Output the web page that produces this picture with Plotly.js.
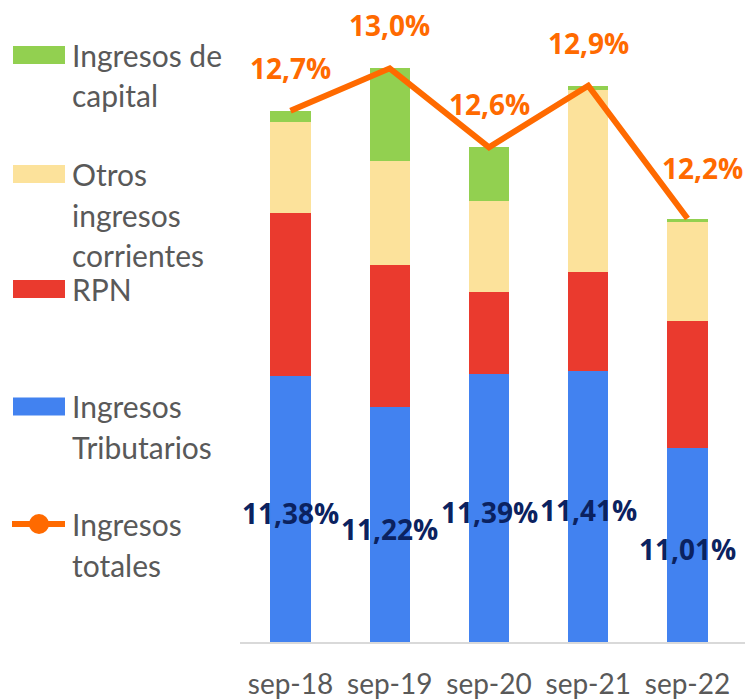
<!DOCTYPE html>
<html><head><meta charset="utf-8">
<script src="https://cdn.plot.ly/plotly-3.0.1.min.js"></script>
<style>html,body{margin:0;padding:0;background:#fff}#chart{width:753px;height:699px}</style>
</head><body><div id="chart"></div>
<script>
const categories = ['sep-18', 'sep-19', 'sep-20', 'sep-21', 'sep-22'];
const tributarios = [11.38, 11.22, 11.39, 11.41, 11.01];
const rpn = [0.85, 0.74, 0.43, 0.51, 0.66];
const otros = [0.47, 0.54, 0.47, 0.95, 0.51];
const capital = [0.06, 0.48, 0.28, 0.02, 0.02];
const totales = [12.76, 12.98, 12.57, 12.89, 12.20];
const tributariosLabels = ['11,38%', '11,22%', '11,39%', '11,41%', '11,01%'];
const totalesLabels = ['12,7%', '13,0%', '12,6%', '12,9%', '12,2%'];
const legendLines = [['Ingresos de', 'capital'], ['Otros', 'ingresos', 'corrientes'], ['RPN'], ['Ingresos', 'Tributarios'], ['Ingresos', 'totales']];

const C = {blue: '#4282F0', red: '#EA3A2E', yellow: '#FCE29B', green: '#92D050', orange: '#FF6A00', navy: '#0B2260', gray: '#595959'};
const FONT = 'Lato, "Open Sans", sans-serif';
const BOLD = '"Open Sans", "Noto Sans", sans-serif';
const M = {l: 240, r: 8, t: 20, b: 57};
const W = 753, H = 699, PW = W - M.l - M.r, PH = H - M.t - M.b;
const axisMin = 10;
const px = x => (x - M.l) / PW;
const py = y => (H - M.b - y) / PH;

const bar = (y, name, color) => ({type: 'bar', x: categories, y: y, name: name, marker: {color: color}, hoverinfo: 'name+y'});
const data = [
  bar(tributarios, 'Ingresos Tributarios', C.blue),
  bar(rpn, 'RPN', C.red),
  bar(otros, 'Otros ingresos corrientes', C.yellow),
  bar(capital, 'Ingresos de capital', C.green),
  {type: 'scatter', mode: 'lines', x: categories, y: totales, name: 'Ingresos totales', line: {color: C.orange, width: 6}}
];

const annotations = [];
categories.forEach((c, i) => {
  annotations.push({x: c, y: (axisMin + tributarios[i]) / 2, text: tributariosLabels[i], showarrow: false,
    yshift: -4, font: {family: BOLD, size: 28, color: C.navy, weight: 700}});
  const last = i === categories.length - 1;
  annotations.push({x: c, y: totales[i], text: totalesLabels[i], showarrow: false,
    xshift: last ? 15 : 0, yshift: last ? 51 : 43, font: {family: BOLD, size: 28, color: C.orange, weight: 700}});
});

const legendTop = [55, 174, 289, 406.5, 524];
const lineGap = 40.5;
const shapes = [];
const swatchColors = [C.green, C.yellow, C.red, C.blue];
legendLines.forEach((lines, k) => {
  lines.forEach((t, j) => {
    annotations.push({xref: 'paper', yref: 'paper', x: px(70), y: py(legendTop[k] + j * lineGap), xanchor: 'left', yanchor: 'middle',
      text: t, showarrow: false, font: {family: FONT, size: 30, color: C.gray}});
  });
  const yc = legendTop[k];
  if (k < 4) {
    shapes.push({type: 'rect', xref: 'paper', yref: 'paper', x0: px(13), x1: px(65), y0: py(yc - 9), y1: py(yc + 9), fillcolor: swatchColors[k], line: {width: 0}});
  } else {
    shapes.push({type: 'line', xref: 'paper', yref: 'paper', x0: px(12), x1: px(65), y0: py(yc), y1: py(yc), line: {color: C.orange, width: 6}});
    shapes.push({type: 'circle', xref: 'paper', yref: 'paper', x0: px(29), x1: px(49), y0: py(yc - 10), y1: py(yc + 10), fillcolor: C.orange, line: {width: 0}});
  }
});

const layout = {
  width: W, height: H, margin: M, barmode: 'stack', bargap: 0.594, showlegend: false,
  paper_bgcolor: '#fff', plot_bgcolor: '#fff',
  xaxis: {type: 'category', showline: true, linecolor: '#D9D9D9', linewidth: 2, showgrid: false, ticks: '',
    ticklabelstandoff: 16, tickfont: {family: FONT, size: 28, color: C.gray}, fixedrange: true},
  yaxis: {range: [axisMin, axisMin + PH / 192.5], showgrid: false, zeroline: false, showticklabels: false, ticks: '', fixedrange: true},
  annotations: annotations, shapes: shapes
};
Plotly.newPlot('chart', data, layout, {displayModeBar: false, staticPlot: true});
</script></body></html>
